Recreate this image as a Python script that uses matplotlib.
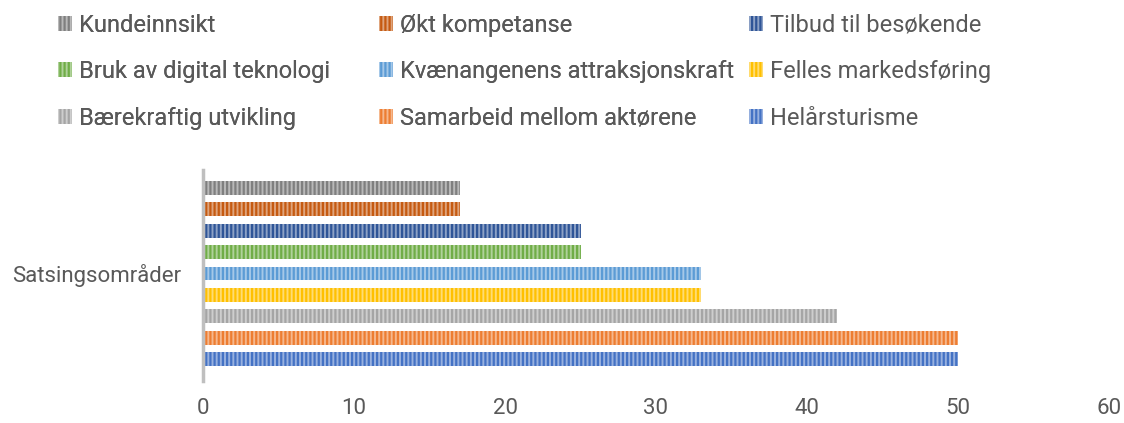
import matplotlib
matplotlib.use("Agg")
import matplotlib.pyplot as plt
import matplotlib.colors as mcolors
import numpy as np

plt.rcParams['font.family'] = ['Roboto', 'DejaVu Sans']
plt.rcParams['hatch.linewidth'] = 1.6

series = ["Kundeinnsikt", "Økt kompetanse", "Tilbud til besøkende",
          "Bruk av digital teknologi", "Kvænangenens attraksjonskraft", "Felles markedsføring",
          "Bærekraftig utvikling", "Samarbeid mellom aktørene", "Helårsturisme"]
values = [17, 17, 25, 25, 33, 33, 42, 50, 50]
colors = ["#7f7f7f", "#c55a11", "#2f5597", "#70ad47", "#5b9bd5", "#ffc000",
          "#a5a5a5", "#ed7d31", "#4472c4"]
category = "Satsingsområder"
xticks = [0, 10, 20, 30, 40, 50, 60]

def lighten(c, f=0.45):
    r, g, b = mcolors.to_rgb(c)
    return (r + (1 - r) * f, g + (1 - g) * f, b + (1 - b) * f)

fig = plt.figure(figsize=(11.24, 4.23), dpi=100)
ax = fig.add_axes([203/1124, 1 - 381/423, (1109 - 203)/1124, (381 - 170)/423])

handles = []
for i, (s, v, c) in enumerate(zip(series, values, colors)):
    b = ax.barh(i, v, height=0.65, color=lighten(c), edgecolor=c, linewidth=0,
                hatch='||||', label=s)
    handles.append(b)

ax.set_xlim(0, 60)
ax.set_ylim(8 + 1.03, -0.84)
ax.set_xticks(xticks)
ax.set_xticklabels([str(t) for t in xticks])
ax.set_yticks([4])
ax.set_yticklabels([category])
ax.tick_params(axis='both', length=0, labelsize=16, colors='#595959')
ax.tick_params(axis='x', pad=12)
ax.tick_params(axis='y', pad=16)
for sp in ['top', 'right', 'bottom']:
    ax.spines[sp].set_visible(False)
ax.spines['left'].set_color('#bfbfbf')
ax.spines['left'].set_linewidth(2.5)

col_x = [41/1124, 362/1124, 732/1124]
for col in range(3):
    idx = [col, col + 3, col + 6]
    leg = fig.legend([handles[i] for i in idx], [series[i] for i in idx],
                     loc='upper left', bbox_to_anchor=(col_x[col], 1.0 + 3/423),
                     frameon=False, fontsize=17, labelcolor='#595959',
                     handlelength=0.6, handleheight=0.6, handletextpad=0.3,
                     labelspacing=1.0, borderaxespad=0.3)
    if col < 2:
        fig.add_artist(leg)

fig.savefig("out.png", dpi=100)
